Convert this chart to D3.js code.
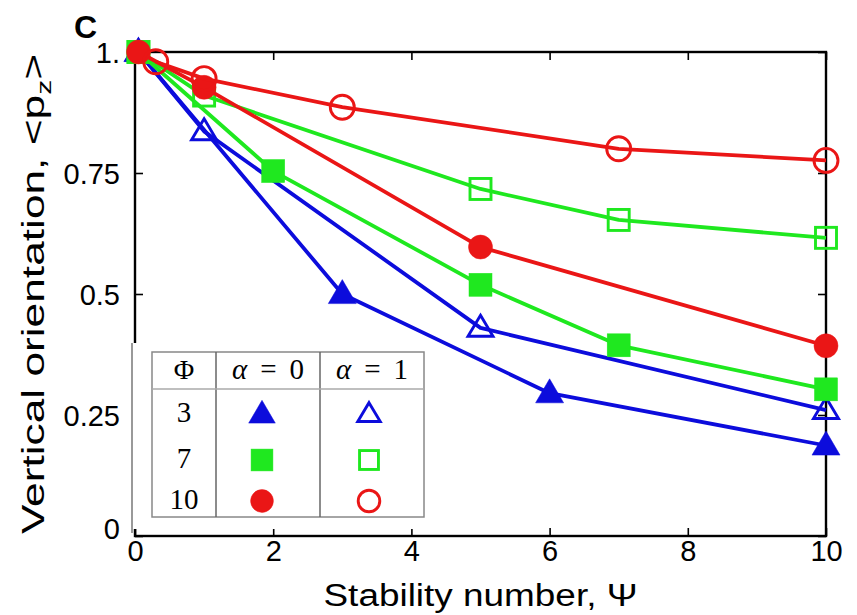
<!DOCTYPE html>
<html>
<head>
<meta charset="utf-8">
<script src="https://cdn.jsdelivr.net/npm/d3@7"></script>
<style>
  html, body { margin: 0; padding: 0; background: #fff; }
  svg { display: block; }
</style>
</head>
<body>
<svg id="chart" width="857" height="615"></svg>
<script>
// ---- data ----
const xTicks = [0, 2, 4, 6, 8, 10];
const yTicks = [0, 0.25, 0.5, 0.75, 1];
const yTickLabels = ["0", "0.25", "0.5", "0.75", "1."];

const phi3_a0_x = [0.05, 3, 6, 10];
const phi3_a0_y = [1.0, 0.50, 0.295, 0.187];
const phi3_a1_x = [0.05, 1, 5, 10];
const phi3_a1_y = [1.0, 0.836, 0.43, 0.26];
const phi7_a0_x = [0.05, 2, 5, 7, 10];
const phi7_a0_y = [1.0, 0.754, 0.519, 0.394, 0.303];
const phi7_a1_x = [0.05, 1, 5, 7, 10];
const phi7_a1_y = [1.0, 0.91, 0.717, 0.653, 0.616];
const phi10_a0_x = [0.05, 1, 5, 10];
const phi10_a0_y = [1.0, 0.927, 0.597, 0.393];
const phi10_a1_x = [0.3, 1, 3, 7, 10];
const phi10_a1_y = [0.98, 0.945, 0.886, 0.80, 0.776];

const legendPhi = ["3", "7", "10"];
const legendAlpha = ["0", "1"];

const BLUE = "#0c0cdc", GREEN = "#1fe81f", RED = "#ea1616";

const series = [
  {x: phi3_a0_x, y: phi3_a0_y, color: BLUE, shape: "triangle", filled: true},
  {x: phi3_a1_x, y: phi3_a1_y, color: BLUE, shape: "triangle", filled: false},
  {x: phi7_a0_x, y: phi7_a0_y, color: GREEN, shape: "square", filled: true},
  {x: phi7_a1_x, y: phi7_a1_y, color: GREEN, shape: "square", filled: false},
  {x: phi10_a0_x, y: phi10_a0_y, color: RED, shape: "circle", filled: true},
  {x: phi10_a1_x, y: phi10_a1_y, color: RED, shape: "circle", filled: false}
];

// ---- layout ----
const svg = d3.select("#chart");
const L = 135, R = 826, T = 52, B = 536;
const x = d3.scaleLinear().domain([0, 10]).range([L, R]);
const y = d3.scaleLinear().domain([0, 1]).range([B, T]);
const FONT = "'Liberation Sans', Arial, Helvetica, sans-serif";
const SERIF = "'Liberation Serif', 'DejaVu Serif', serif";

// frame
svg.append("rect").attr("x", L).attr("y", T).attr("width", R - L).attr("height", B - T)
  .attr("fill", "none").attr("stroke", "#000").attr("stroke-width", 2.4);

// axes with inward ticks
const tk = 8;
const gB = svg.append("g").attr("transform", `translate(0,${B})`)
  .call(d3.axisBottom(x).tickValues(xTicks).tickSizeInner(-tk).tickSizeOuter(0).tickPadding(4).tickFormat(d3.format("d")));
const gT = svg.append("g").attr("transform", `translate(0,${T})`)
  .call(d3.axisTop(x).tickValues(xTicks).tickSizeInner(-tk).tickSizeOuter(0).tickFormat(""));
const gL = svg.append("g").attr("transform", `translate(${L},0)`)
  .call(d3.axisLeft(y).tickValues(yTicks).tickSizeInner(-tk).tickSizeOuter(0).tickPadding(15)
    .tickFormat((d, i) => yTickLabels[i]));
const gR = svg.append("g").attr("transform", `translate(${R},0)`)
  .call(d3.axisRight(y).tickValues(yTicks).tickSizeInner(-tk).tickSizeOuter(0).tickFormat(""));
[gB, gT, gL, gR].forEach(g => {
  g.select(".domain").remove();
  g.selectAll(".tick line").attr("stroke", "#000").attr("stroke-width", 1.6);
  g.selectAll("text").attr("font-family", FONT).attr("font-size", 29).attr("fill", "#000");
});
gB.selectAll("text").attr("dy", "0.71em");
gL.selectAll("text").attr("dy", "0.36em");
gL.selectAll(".tick").filter(d => d === 0).select("text").attr("dy", "0.1em");

// series
const lineGen = d3.line().x(d => x(d[0])).y(d => y(d[1]));
function marker(g, shape, filled, color, cx, cy, scale) {
  const k = scale || 1;
  const sw = 2.9;
  if (shape === "triangle") {
    const w = (filled ? 28 : 25) * k, h = (filled ? 24 : 21) * k;
    g.append("path")
      .attr("d", `M${cx},${cy - h * 0.6}L${cx + w / 2},${cy + h * 0.4}L${cx - w / 2},${cy + h * 0.4}Z`)
      .attr("fill", filled ? color : "none").attr("stroke", color).attr("stroke-width", filled ? 0.5 : sw)
      .attr("stroke-linejoin", "miter");
  } else if (shape === "square") {
    const a = (filled ? 23 : 21) * k;
    g.append("rect").attr("x", cx - a / 2).attr("y", cy - a / 2).attr("width", a).attr("height", a)
      .attr("fill", filled ? color : "none").attr("stroke", color).attr("stroke-width", filled ? 0.5 : sw);
  } else {
    const r = (filled ? 12 : 12) * k;
    g.append("circle").attr("cx", cx).attr("cy", cy).attr("r", r)
      .attr("fill", filled ? color : "none").attr("stroke", color).attr("stroke-width", filled ? 0.5 : sw);
  }
}
series.forEach(s => {
  const pts = s.x.map((v, i) => [v, s.y[i]]);
  const g = svg.append("g");
  g.append("path").attr("d", lineGen(pts)).attr("fill", "none")
    .attr("stroke", s.color).attr("stroke-width", 3.8).attr("stroke-linejoin", "round");
  pts.forEach(p => marker(g, s.shape, s.filled, s.color, x(p[0]), y(p[1])));
});

// legend (white panel covering the axis)
const lg = svg.append("g");
lg.append("rect").attr("x", 132).attr("y", 343).attr("width", 300).attr("height", 186).attr("fill", "#fff");
lg.append("line").attr("x1", 132).attr("x2", 132).attr("y1", 343).attr("y2", 533)
  .attr("stroke", "#777").attr("stroke-width", 1.5);
const tx0 = 152, tx1 = 216, tx2 = 320, tx3 = 424, ty0 = 352, ty1 = 389, ty2 = 517;
lg.append("rect").attr("x", tx0).attr("y", ty0).attr("width", tx3 - tx0).attr("height", ty2 - ty0)
  .attr("fill", "none").attr("stroke", "#888").attr("stroke-width", 1.5);
[tx1, tx2].forEach(v => lg.append("line").attr("x1", v).attr("x2", v).attr("y1", ty0).attr("y2", ty2)
  .attr("stroke", "#666").attr("stroke-width", 1.5));
lg.append("line").attr("x1", tx0).attr("x2", tx3).attr("y1", ty1).attr("y2", ty1)
  .attr("stroke", "#aaa").attr("stroke-width", 1.5);
const hdrY = 369;
lg.append("text").attr("x", (tx0 + tx1) / 2).attr("y", hdrY).attr("dy", "0.35em").attr("text-anchor", "middle")
  .attr("font-family", SERIF).attr("font-size", 28).text("Φ");
[(tx1 + tx2) / 2, (tx2 + tx3) / 2].forEach((cx, i) => {
  const t = lg.append("text").attr("x", cx).attr("y", hdrY).attr("dy", "0.35em").attr("text-anchor", "middle")
    .attr("font-family", SERIF).attr("font-size", 29)
    .attr("textLength", 72).attr("lengthAdjust", "spacing");
  t.append("tspan").attr("font-style", "italic").text("α");
  t.append("tspan").text(" = " + legendAlpha[i]);
});
const rowY = [412, 458, 499];
const legendShapes = [["triangle", BLUE], ["square", GREEN], ["circle", RED]];
legendPhi.forEach((p, i) => {
  lg.append("text").attr("x", 184).attr("y", rowY[i]).attr("dy", "0.35em").attr("text-anchor", "middle")
    .attr("font-family", SERIF).attr("font-size", 29).text(p);
  marker(lg, legendShapes[i][0], true, legendShapes[i][1], 262, rowY[i] + 2, 0.95);
  marker(lg, legendShapes[i][0], false, legendShapes[i][1], 369, rowY[i] + 2, 0.9);
});

// axis titles
svg.append("text").attr("x", (L + R) / 2).attr("y", 606).attr("text-anchor", "middle")
  .attr("font-family", FONT).attr("font-size", 31)
  .attr("textLength", 314).attr("lengthAdjust", "spacingAndGlyphs").text("Stability number, Ψ");
const yl = svg.append("text").attr("transform", `translate(44,${(T + B) / 2}) rotate(-90)`)
  .attr("text-anchor", "middle").attr("font-family", FONT).attr("font-size", 31)
  .attr("textLength", 480).attr("lengthAdjust", "spacingAndGlyphs");
yl.append("tspan").text("Vertical orientation, <p");
yl.append("tspan").attr("font-size", 21).attr("dy", 7).text("z");
yl.append("tspan").attr("dy", -7).text(">");

// panel letter
svg.append("text").attr("x", 74).attr("y", 38).attr("font-family", FONT).attr("font-weight", "bold")
  .attr("font-size", 32).text("C");
</script>
</body>
</html>
